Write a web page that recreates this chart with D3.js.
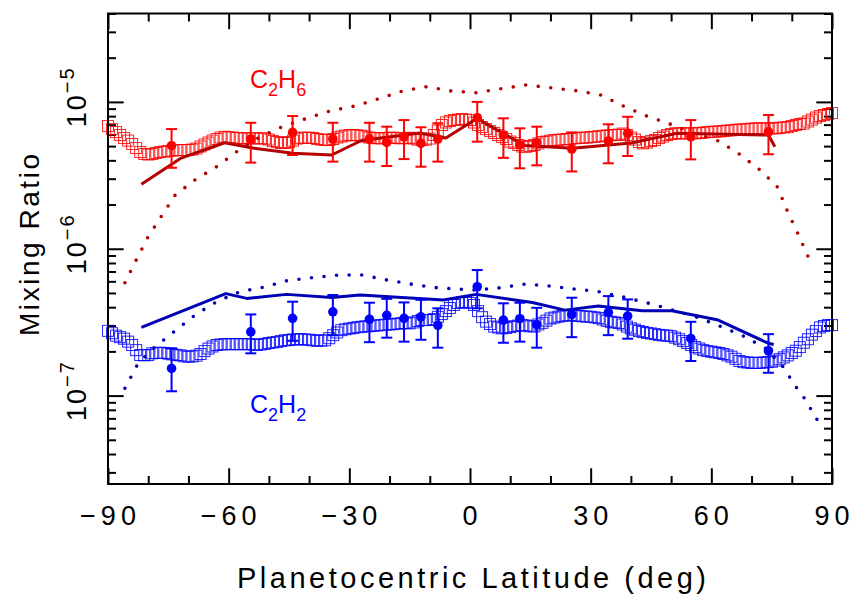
<!DOCTYPE html>
<html><head><meta charset="utf-8">
<script src="https://cdn.jsdelivr.net/npm/d3@7"></script>
<style>
body{margin:0;background:#fff}
svg text{font-family:"Liberation Sans",Arial,sans-serif}
</style>
</head><body>
<svg id="chart" width="855" height="600"></svg>
<script>
// ---------------- data ----------------
// observed latitudinal profiles (squares), one value per degree of latitude -90..90
const obsGridLat = d3.range(-90, 91, 1);
// C2H6 mixing ratio, units of 1e-6
const c2h6Obs = [
 6.85,6.53,6.23,5.95,5.68,5.45,5.17,4.85,4.56,4.42,
 4.38,4.42,4.49,4.56,4.59,4.63,4.66,4.70,4.70,4.70,
 4.70,4.74,4.81,4.97,5.13,5.29,5.45,5.59,5.72,5.79,
 5.76,5.72,5.68,5.65,5.65,5.65,5.65,5.65,5.65,5.63,
 5.54,5.41,5.33,5.25,5.25,5.33,5.45,5.63,5.70,5.70,
 5.70,5.68,5.59,5.54,5.50,5.50,5.59,5.72,5.81,5.90,
 5.95,5.95,5.92,5.88,5.81,5.72,5.68,5.65,5.65,5.68,
 5.70,5.70,5.67,5.65,5.68,5.70,5.63,5.54,5.50,5.54,
 5.63,5.95,6.38,6.96,7.24,7.41,7.52,7.58,7.64,7.58,
 7.52,7.24,6.96,6.74,6.53,6.33,6.14,5.95,5.76,5.59,
 5.37,5.25,5.09,4.97,4.95,5.01,5.09,5.21,5.33,5.37,
 5.45,5.50,5.52,5.54,5.59,5.60,5.65,5.68,5.70,5.72,
 5.76,5.79,5.83,5.87,5.90,5.93,5.95,5.99,6.09,5.95,
 5.72,5.54,5.33,5.22,5.29,5.41,5.50,5.68,5.81,5.95,
 6.04,6.11,6.11,6.11,6.11,6.11,6.11,6.14,6.18,6.23,
 6.25,6.27,6.30,6.33,6.37,6.41,6.45,6.48,6.50,6.53,
 6.57,6.60,6.60,6.60,6.60,6.60,6.61,6.66,6.70,6.74,
 6.85,6.96,7.07,7.12,7.35,7.58,7.82,8.01,8.14,8.27,
 8.40];
// C2H2 mixing ratio, units of 1e-7
const c2h2Obs = [
 2.76,2.66,2.56,2.50,2.44,2.33,2.21,2.04,1.89,1.88,
 1.89,1.94,1.95,1.96,1.95,1.93,1.91,1.89,1.88,1.85,
 1.84,1.85,1.87,1.92,2.01,2.09,2.16,2.21,2.23,2.24,
 2.24,2.24,2.24,2.24,2.24,2.24,2.23,2.21,2.23,2.25,
 2.28,2.30,2.32,2.35,2.38,2.39,2.41,2.42,2.42,2.41,
 2.40,2.38,2.36,2.37,2.38,2.46,2.58,2.69,2.79,2.83,
 2.86,2.89,2.92,2.94,2.96,2.97,2.99,3.01,3.02,3.04,
 3.05,3.07,3.09,3.11,3.11,3.11,3.15,3.22,3.27,3.27,
 3.27,3.32,3.44,3.59,3.76,3.95,4.14,4.27,4.33,4.35,
 4.27,4.14,3.76,3.42,3.19,3.07,2.95,2.91,2.87,2.89,
 2.93,2.97,3.00,3.02,3.00,2.96,2.96,3.05,3.13,3.24,
 3.35,3.40,3.45,3.49,3.52,3.53,3.51,3.49,3.47,3.45,
 3.44,3.41,3.37,3.30,3.23,3.18,3.15,3.12,3.05,2.95,
 2.87,2.81,2.75,2.71,2.67,2.65,2.62,2.59,2.57,2.56,
 2.54,2.48,2.42,2.35,2.28,2.21,2.14,2.09,2.04,2.01,
 1.99,1.97,1.95,1.92,1.88,1.84,1.78,1.72,1.69,1.68,
 1.67,1.67,1.67,1.68,1.69,1.70,1.73,1.77,1.82,1.88,
 1.95,2.02,2.14,2.29,2.42,2.60,2.75,2.91,2.98,3.02,
 3.02];

// retrieved points with error bars
const ptLat   = [-74.2,-54.5,-44.1,-34.1,-25.0,-20.7,-16.4,-12.2,-8.0,1.8,8.3,12.4,16.6,25.3,34.4,39.2,54.9,74.2];
const c2h6Pt  = [5.03,5.59,6.20,5.59,5.59,5.31,5.79,5.22,5.59,7.80,5.95,5.09,5.27,4.78,5.41,6.11,5.79,6.26];
const c2h6Hi  = [6.53,7.21,8.01,7.21,7.21,6.78,7.52,6.72,7.15,10.0,7.73,6.61,6.78,6.20,7.04,7.92,7.52,8.14];
const c2h6Lo  = [3.56,3.86,4.35,3.92,3.92,3.66,4.08,3.62,3.92,5.36,4.16,3.53,3.70,3.36,3.82,4.28,4.06,4.40];
const c2h2Pt  = [1.53,2.72,3.36,3.72,3.31,3.52,3.36,3.44,3.01,5.51,3.27,3.34,3.04,3.57,3.69,3.48,2.45,2.02];
const c2h2Hi  = [2.10,3.57,4.36,4.84,4.29,4.56,4.31,4.49,3.93,7.16,4.25,4.29,3.96,4.64,4.76,4.52,3.18,2.62];
const c2h2Lo  = [1.07,1.94,2.36,2.58,2.31,2.48,2.33,2.40,2.12,3.93,2.29,2.33,2.12,2.50,2.58,2.44,1.72,1.43];

// model, solid lines
const c2h6SolidLat = [-81.7,-72,-61,-54,-44,-34.4,-27,-12.5,-6,1.7,13.5,25.5,40,51.5,74.2,75.8];
const c2h6Solid    = [2.75,4.12,5.27,4.85,4.47,4.35,5.46,6.14,5.68,7.71,5.05,4.83,5.25,6.11,5.95,4.95];
const c2h2SolidLat = [-81.7,-60.7,-55.5,-45.6,-34.4,-27.3,-6.6,1.5,15.5,23.6,31.9,42.8,50.2,61.7,74.2,75.5];
const c2h2Solid    = [2.91,4.95,4.59,4.89,4.65,4.84,4.47,4.89,4.30,3.82,4.08,3.78,3.78,3.27,2.27,2.23];

// model, dotted lines
const c2h6DotLat = [-85.8,-82.9,-80.1,-76.7,-73.3,-68.4,-63,-58,-52.2,-46.6,-40.6,-34.8,-28.6,-22.8,-16.7,-10.8,-4.7,1.5,7.8,13.8,20.1,26.4,32.5,38.1,43.9,49.7,55.4,61.3,66.7,71.9,76.3,77.5,78.7,81.4,83.9,85.1];
const c2h6Dotted = [0.587,0.847,1.196,1.67,2.32,2.94,3.62,4.58,5.79,6.78,7.73,8.67,9.38,10.47,11.87,12.69,11.87,11.55,12.30,13.03,12.49,11.92,11.14,9.38,8.02,7.07,6.14,5.50,4.47,3.47,2.67,2.24,1.86,1.29,0.906,0.754];
const c2h2DotLat = [-85.8,-82.5,-78.3,-73.3,-68.4,-63,-57.2,-51.4,-45.6,-39.2,-32.7,-26.7,-20.6,-14.3,-8.1,-1.9,1.2,7.5,13.7,19.9,26.1,32.1,38.4,44.5,50.5,56.5,62.6,68,73.5,77.6,81,83.2,86.5];
const c2h2Dotted = [1.12,1.66,2.15,2.76,3.53,4.36,5.10,5.46,6.05,6.35,6.62,6.62,6.12,5.72,5.42,5.29,5.23,5.42,5.75,5.57,5.31,5.10,4.67,4.25,3.82,3.41,2.94,2.54,2.10,1.60,1.15,0.954,0.670];

const UNIT6 = 1e-6, UNIT7 = 1e-7;
const xTicksMajor = [-90,-60,-30,0,30,60,90];
const xTicksMinor = [-80,-70,-50,-40,-20,-10,10,20,40,50,70,80];
const yTicksMajor = [1e-7,1e-6,1e-5];
const yTickLabels = [["10","\u22127"],["10","\u22126"],["10","\u22125"]];
const xTitle = "Planetocentric Latitude (deg)";
const yTitle = "Mixing Ratio";

// ---------------- drawing ----------------
const L = 108, R = 832, T = 13.5, B = 484;
const svg = d3.select("#chart");
const x = d3.scaleLinear().domain([-90, 90]).range([L, R]);
const y = d3.scaleLog().domain([2.5e-8, 4e-5]).range([B, T]);

const RED = "#ff0000", DRED = "#b40000", BLUE = "#0000ff", DBLUE = "#0000b4";

const yMinor = [];
[-8,-7,-6,-5].forEach(e => { for (let k = 2; k <= 9; k++) { const v = k * Math.pow(10, e); if (v >= 2.5e-8 && v <= 4e-5) yMinor.push(v); } });

function axisG(gen, tx, ty) {
  const g = svg.append("g").attr("transform", `translate(${tx},${ty})`).call(gen);
  g.select(".domain").remove();
  g.selectAll("line").attr("stroke", "#000").attr("stroke-width", 2);
  return g;
}
axisG(d3.axisBottom(x).tickValues(xTicksMajor).tickSize(-15.7).tickFormat(""), 0, B);
axisG(d3.axisBottom(x).tickValues(xTicksMinor).tickSize(-8).tickFormat(""), 0, B);
axisG(d3.axisTop(x).tickValues(xTicksMajor).tickSize(-15.7).tickFormat(""), 0, T);
axisG(d3.axisTop(x).tickValues(xTicksMinor).tickSize(-8).tickFormat(""), 0, T);
axisG(d3.axisLeft(y).tickValues(yTicksMajor).tickSize(-15.7).tickFormat(""), L, 0);
axisG(d3.axisLeft(y).tickValues(yMinor).tickSize(-8).tickFormat(""), L, 0);
axisG(d3.axisRight(y).tickValues(yTicksMajor).tickSize(-15.7).tickFormat(""), R, 0);
axisG(d3.axisRight(y).tickValues(yMinor).tickSize(-8).tickFormat(""), R, 0);

// x tick labels
svg.append("g").selectAll("text").data(xTicksMajor).join("text")
  .attr("x", d => x(d) + 2.5).attr("y", 525)
  .attr("text-anchor", "middle").attr("font-size", 27).attr("letter-spacing", 5)
  .text(d => d3.format("d")(d));

// y tick labels (rotated)
yTicksMajor.forEach((v, i) => {
  const t = svg.append("text")
    .attr("transform", `translate(86,${y(v) - 5}) rotate(-90)`)
    .attr("text-anchor", "middle").attr("font-size", 27).attr("letter-spacing", 2);
  t.append("tspan").text(yTickLabels[i][0]);
  t.append("tspan").attr("dy", -12).attr("font-size", 20).text(yTickLabels[i][1]);
});

// axis titles
svg.append("text").attr("x", 471.5).attr("y", 588).attr("text-anchor", "middle")
  .attr("font-size", 29).attr("textLength", 469).attr("lengthAdjust", "spacing").text(xTitle);
svg.append("text").attr("transform", "translate(39,245) rotate(-90)").attr("text-anchor", "middle")
  .attr("font-size", 28).attr("textLength", 182).attr("lengthAdjust", "spacing").text(yTitle);

// plot content
const plot = svg.append("g");

function squares(vals, unit, color) {
  plot.append("g").selectAll("rect").data(obsGridLat.map((d, i) => [d, vals[i] * unit])).join("rect")
    .attr("x", d => x(d[0]) - 5.5).attr("y", d => y(d[1]) - 5.5)
    .attr("width", 11).attr("height", 11)
    .attr("fill", "none").attr("stroke", color).attr("stroke-width", 1).attr("stroke-opacity", 0.85);
}
function model(lats, vals, unit, color, dotted) {
  const line = d3.line().x(d => x(d[0])).y(d => y(d[1]));
  const p = plot.append("path").datum(lats.map((d, i) => [d, vals[i] * unit]))
    .attr("d", line).attr("fill", "none").attr("stroke", color);
  if (dotted) p.attr("stroke-width", 3.6).attr("stroke-dasharray", "0 12.6").attr("stroke-linecap", "round");
  else p.attr("stroke-width", 3).attr("stroke-linejoin", "round");
}
function points(vals, hi, lo, unit, color) {
  const g = plot.append("g").attr("stroke", color).attr("stroke-width", 2);
  ptLat.forEach((lat, i) => {
    const cx = x(lat), y0 = y(hi[i] * unit), y1 = y(lo[i] * unit);
    g.append("line").attr("x1", cx).attr("x2", cx).attr("y1", y0).attr("y2", y1);
    g.append("line").attr("x1", cx - 5.5).attr("x2", cx + 5.5).attr("y1", y0).attr("y2", y0);
    g.append("line").attr("x1", cx - 5.5).attr("x2", cx + 5.5).attr("y1", y1).attr("y2", y1);
  });
  plot.append("g").selectAll("circle").data(ptLat.map((d, i) => [d, vals[i] * unit])).join("circle")
    .attr("cx", d => x(d[0])).attr("cy", d => y(d[1])).attr("r", 4.8).attr("fill", color);
}

squares(c2h6Obs, UNIT6, RED);
squares(c2h2Obs, UNIT7, BLUE);
model(c2h6DotLat, c2h6Dotted, UNIT6, DRED, true);
model(c2h2DotLat, c2h2Dotted, UNIT7, DBLUE, true);
model(c2h6SolidLat, c2h6Solid, UNIT6, DRED, false);
model(c2h2SolidLat, c2h2Solid, UNIT7, DBLUE, false);
points(c2h6Pt, c2h6Hi, c2h6Lo, UNIT6, RED);
points(c2h2Pt, c2h2Hi, c2h2Lo, UNIT7, BLUE);

// species labels
function species(x0, y0, color, parts) {
  const t = svg.append("text").attr("x", x0).attr("y", y0).attr("fill", color).attr("font-size", 25);
  let sub = false;
  parts.forEach(p => {
    const isSub = /\d/.test(p);
    const dy = isSub && !sub ? 8 : (!isSub && sub ? -8 : 0);
    t.append("tspan").attr("dy", dy).attr("font-size", isSub ? 18 : 25).text(p);
    sub = isSub;
  });
}
species(250, 88, RED, ["C","2","H","6"]);
species(250, 412.5, BLUE, ["C","2","H","2"]);

// frame
svg.append("rect").attr("x", L).attr("y", T).attr("width", R - L).attr("height", B - T)
  .attr("fill", "none").attr("stroke", "#000").attr("stroke-width", 2);
</script>
</body></html>
